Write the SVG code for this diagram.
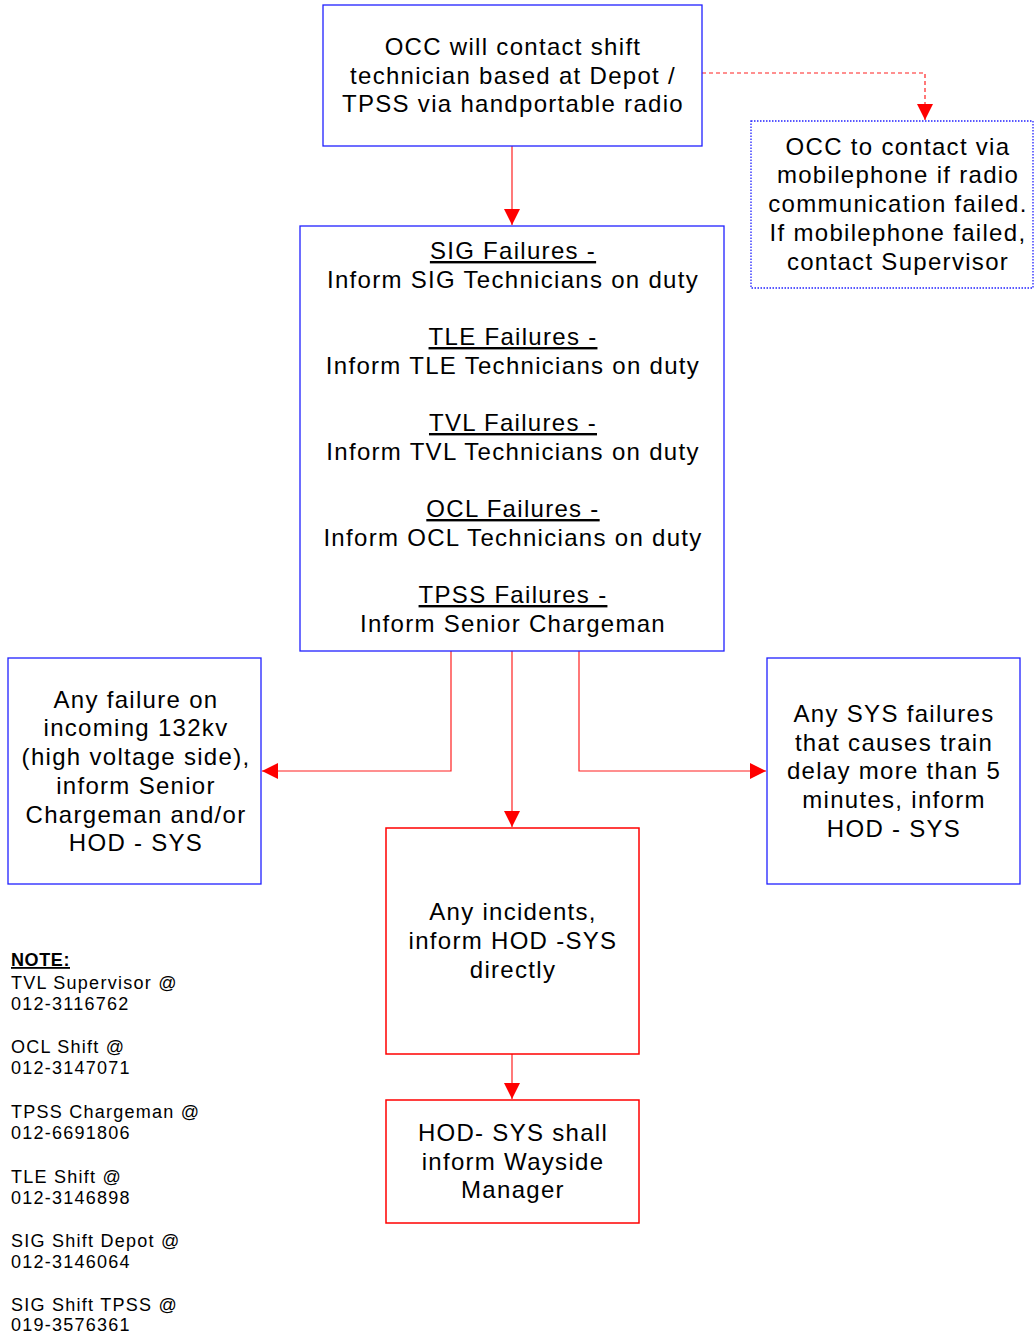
<svg xmlns="http://www.w3.org/2000/svg" width="1034" height="1335" viewBox="0 0 1034 1335">
<defs>
<style>
.t{font-family:"Liberation Sans",Arial,sans-serif;font-size:24px;letter-spacing:1.3px;fill:#000;text-anchor:middle}
.n{font-family:"Liberation Sans",Arial,sans-serif;font-size:18px;letter-spacing:1.25px;fill:#000}
.b{fill:#fff;stroke:#2020ff;stroke-width:1.3}
.d{fill:#fff;stroke:#2020ff;stroke-width:1.3;stroke-dasharray:1.5 1.5}
.r{fill:#fff;stroke:#ff0000;stroke-width:1.5}
.c{fill:none;stroke:#ff2020;stroke-width:1.2}
.u{text-decoration:underline}
</style>
<marker id="ah" viewBox="0 0 10 10" refX="10" refY="5" markerWidth="16" markerHeight="16" markerUnits="userSpaceOnUse" orient="auto">
<path d="M0,0 L10,5 L0,10 z" fill="#ff0000"/>
</marker>
</defs>
<rect width="1034" height="1335" fill="#fff"/>
<g id="connectors">
<path class="c" d="M512,146 V225" marker-end="url(#ah)"/>
<path class="c" d="M702,73 H925 V120" stroke-dasharray="4 3" marker-end="url(#ah)"/>
<path class="c" d="M451,651 V771 H262" marker-end="url(#ah)"/>
<path class="c" d="M512,651 V827" marker-end="url(#ah)"/>
<path class="c" d="M579,651 V771 H766" marker-end="url(#ah)"/>
<path class="c" d="M512,1054 V1099" marker-end="url(#ah)"/>
</g>
<g id="node-occ">
<rect class="b" x="323" y="5" width="379" height="141"/>
<text class="t" x="513" y="55">OCC will contact shift</text>
<text class="t" x="513" y="84">technician based at Depot /</text>
<text class="t" x="513" y="112">TPSS via handportable radio</text>
</g>
<g id="node-mobile">
<rect class="d" x="751" y="121" width="282" height="167"/>
<text class="t" x="898" y="155">OCC to contact via</text>
<text class="t" x="898" y="183">mobilephone if radio</text>
<text class="t" x="898" y="212">communication failed.</text>
<text class="t" x="898" y="241">If mobilephone failed,</text>
<text class="t" x="898" y="270">contact Supervisor</text>
</g>
<g id="node-failures">
<rect class="b" x="300" y="226" width="424" height="425"/>
<text class="t u" x="513" y="259">SIG Failures -</text>
<text class="t" x="513" y="288">Inform SIG Technicians on duty</text>
<text class="t u" x="513" y="345">TLE Failures -</text>
<text class="t" x="513" y="374">Inform TLE Technicians on duty</text>
<text class="t u" x="513" y="431">TVL Failures -</text>
<text class="t" x="513" y="460">Inform TVL Technicians on duty</text>
<text class="t u" x="513" y="517">OCL Failures -</text>
<text class="t" x="513" y="546">Inform OCL Technicians on duty</text>
<text class="t u" x="513" y="603">TPSS Failures -</text>
<text class="t" x="513" y="632">Inform Senior Chargeman</text>
</g>
<g id="node-132kv">
<rect class="b" x="8" y="658" width="253" height="226"/>
<text class="t" x="136" y="708">Any failure on</text>
<text class="t" x="136" y="736">incoming 132kv</text>
<text class="t" x="136" y="765">(high voltage side),</text>
<text class="t" x="136" y="794">inform Senior</text>
<text class="t" x="136" y="823">Chargeman and/or</text>
<text class="t" x="136" y="851">HOD - SYS</text>
</g>
<g id="node-sys">
<rect class="b" x="767" y="658" width="253" height="226"/>
<text class="t" x="894" y="722">Any SYS failures</text>
<text class="t" x="894" y="751">that causes train</text>
<text class="t" x="894" y="779">delay more than 5</text>
<text class="t" x="894" y="808">minutes, inform</text>
<text class="t" x="894" y="837">HOD - SYS</text>
</g>
<g id="node-incidents">
<rect class="r" x="386" y="828" width="253" height="226"/>
<text class="t" x="513" y="920">Any incidents,</text>
<text class="t" x="513" y="949">inform HOD -SYS</text>
<text class="t" x="513" y="978">directly</text>
</g>
<g id="node-hod">
<rect class="r" x="386" y="1100" width="253" height="123"/>
<text class="t" x="513" y="1141">HOD- SYS shall</text>
<text class="t" x="513" y="1170">inform Wayside</text>
<text class="t" x="513" y="1198">Manager</text>
</g>
<g id="note">
<text class="n u" x="11" y="966" font-weight="bold" style="letter-spacing:0.6px">NOTE:</text>
<text class="n" x="11" y="989">TVL Supervisor @</text>
<text class="n" x="11" y="1010">012-3116762</text>
<text class="n" x="11" y="1053">OCL Shift @</text>
<text class="n" x="11" y="1074">012-3147071</text>
<text class="n" x="11" y="1118">TPSS Chargeman @</text>
<text class="n" x="11" y="1139">012-6691806</text>
<text class="n" x="11" y="1183">TLE Shift @</text>
<text class="n" x="11" y="1204">012-3146898</text>
<text class="n" x="11" y="1247">SIG Shift Depot @</text>
<text class="n" x="11" y="1268">012-3146064</text>
<text class="n" x="11" y="1311">SIG Shift TPSS @</text>
<text class="n" x="11" y="1331">019-3576361</text>
</g>
</svg>
